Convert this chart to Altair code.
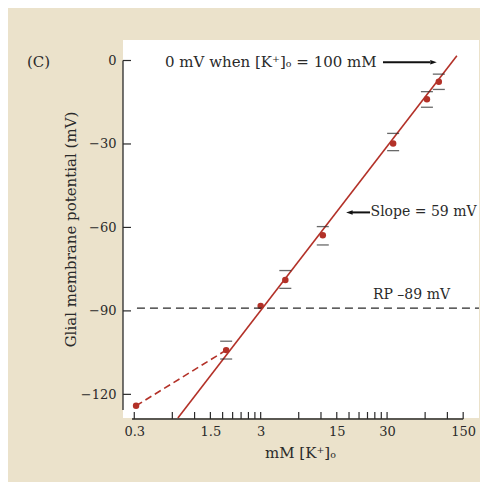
import altair as alt
import pandas as pd

# ---------------- data ----------------
conc = [0.31, 1.6, 3.0, 4.7, 9.3, 33.5, 62.0, 77.0]          # mM [K+]o
potential = [-124.1, -104.1, -88.2, -78.9, -62.8, -29.8, -13.9, -7.6]  # mV
err_upper = [None, -100.9, None, -75.5, -59.7, -26.2, -11.2, -4.9]
err_lower = [None, -107.3, None, -81.9, -66.3, -32.4, -16.8, -10.4]

fit_conc = [0.664, 107.0]        # solid Nernst line (slope 59 mV)
fit_potential = [-128.5, 1.7]

low_conc = [0.31, 1.6]           # dashed deviation at low [K+]o
low_potential = [-124.1, -104.1]

rp_conc = [0.315, 160.1]         # resting potential line
rp_potential = [-89.0, -89.0]

x_tick_values = [0.3, 0.6, 0.9, 1.2, 1.5, 1.8, 2.1, 2.4, 2.7, 3.0,
                 6, 9, 12, 15, 18, 21, 24, 27, 30, 60, 90, 120]
x_label_values = [0.3, 1.2, 3, 12, 30, 120]
x_label_text = ["0.3", "1.5", "3", "15", "30", "150"]
y_tick_values = [0, -30, -60, -90, -120]

x_axis_line = [0.288, 120]
y_axis_line = [0, -125.6]

# annotations
ann_text = ["0 mV when [K⁺]ₒ = 100 mM", "Slope = 59 mV", "RP –89 mV"]
ann_x = [0.525, 22.2, 23.2]
ann_y = [-0.6, -54.6, -84.3]
ann_size = [15, 14, 14]

arrow_id = ["a", "a", "b", "b"]
arrow_x = [27.85, 65.6, 15.8, 22.0]
arrow_y = [-0.65, -0.65, -54.6, -54.6]

head_x = [69.9, 15.1]
head_y = [-0.65, -54.6]
head_dir = ["right", "left"]

X_DOMAIN = [0.2443, 160.1]
Y_DOMAIN = [-128.5, 7.37]

W, H = 356, 378
RED = "#b33128"
INK = "#2a2a2a"
FONT = "DejaVu Serif"

xs = alt.Scale(type="log", domain=X_DOMAIN, nice=False, zero=False)
ys = alt.Scale(domain=Y_DOMAIN, nice=False, zero=False)

label_expr = "".join(
    f"datum.value == {v} ? '{t}' : " for v, t in zip(x_label_values, x_label_text)
) + "''"

X_AX = alt.Axis(
    values=x_label_values, labelExpr=label_expr, ticks=False, tickSize=0,
    domain=False, grid=False, labelFont=FONT, labelFontSize=13,
    labelColor=INK, labelPadding=7, labelFlush=False,
    title="mM [K⁺]ₒ", titleFont=FONT, titleFontSize=15, titleFontWeight="normal",
    titleColor=INK, titleX=177, titleY=34, titleBaseline="middle",
    titleAnchor="start", titleAlign="center")
Y_AX = alt.Axis(
    values=y_tick_values, ticks=False, tickSize=0, domain=False, grid=False,
    labelFont=FONT, labelFontSize=13, labelColor=INK, labelPadding=7,
    title="Glial membrane potential (mV)", titleFont=FONT, titleFontSize=15,
    titleFontWeight="normal", titleColor=INK, titleAngle=270,
    titleX=-53, titleY=189, titleBaseline="middle", titleAlign="center",
    titleAnchor="start")


def xe(field):
    return alt.X(f"{field}:Q", scale=xs, axis=X_AX)


def ye(field):
    return alt.Y(f"{field}:Q", scale=ys, axis=Y_AX)


pts = pd.DataFrame({"conc": conc, "pot": potential})
caps = pd.DataFrame({
    "conc": [c for c, u in zip(conc, err_upper) if u is not None] +
            [c for c, l in zip(conc, err_lower) if l is not None],
    "pot": [u for u in err_upper if u is not None] +
           [l for l in err_lower if l is not None],
})

points = alt.Chart(pts).mark_circle(size=42, color=RED, opacity=1).encode(
    x=xe("conc"), y=ye("pot"))

rp_line = alt.Chart(pd.DataFrame({"conc": rp_conc, "pot": rp_potential})).mark_line(
    color=INK, strokeWidth=1.2, strokeDash=[8, 5]).encode(x=xe("conc"), y=ye("pot"))

fit_line = alt.Chart(pd.DataFrame({"conc": fit_conc, "pot": fit_potential})).mark_line(
    color=RED, strokeWidth=1.6).encode(x=xe("conc"), y=ye("pot"))

low_line = alt.Chart(pd.DataFrame({"conc": low_conc, "pot": low_potential})).mark_line(
    color=RED, strokeWidth=1.6, strokeDash=[7, 4]).encode(x=xe("conc"), y=ye("pot"))

cap_marks = alt.Chart(caps).mark_tick(
    orient="horizontal", size=12, thickness=1.3, color=INK).encode(
    x=xe("conc"), y=ye("pot"))

# axis lines and inward ticks
x_axis = alt.Chart(pd.DataFrame({"conc": [x_axis_line[0]], "conc2": [x_axis_line[1]]})).mark_rule(
    color=INK, strokeWidth=1.3).encode(
    x=xe("conc"), x2="conc2:Q", y=alt.value(H + 1))
x_ticks = alt.Chart(pd.DataFrame({"conc": x_tick_values})).mark_rule(
    color=INK, strokeWidth=1.2).encode(
    x=xe("conc"), y=alt.value(H + 1), y2=alt.value(H - 6))
y_axis = alt.Chart(pd.DataFrame({"pot": [y_axis_line[0]], "pot2": [y_axis_line[1]]})).mark_rule(
    color=INK, strokeWidth=1.3).encode(
    y=ye("pot"), y2="pot2:Q", x=alt.value(0))
y_ticks = alt.Chart(pd.DataFrame({"pot": y_tick_values})).mark_rule(
    color=INK, strokeWidth=1.2).encode(
    y=ye("pot"), x=alt.value(0), x2=alt.value(8))

texts = alt.Chart(pd.DataFrame({"t": ann_text, "conc": ann_x, "pot": ann_y,
                                "s": ann_size})).mark_text(
    align="left", baseline="middle", font=FONT, color=INK).encode(
    x=xe("conc"), y=ye("pot"), text="t:N",
    size=alt.Size("s:Q", scale=None, legend=None))

arrows = alt.Chart(pd.DataFrame({"id": arrow_id, "conc": arrow_x, "pot": arrow_y})).mark_line(
    color="#111111", strokeWidth=2).encode(x=xe("conc"), y=ye("pot"), detail="id:N")

heads_df = pd.DataFrame({"conc": head_x, "pot": head_y, "dir": head_dir})
head_r = alt.Chart(heads_df[heads_df.dir == "right"]).mark_point(
    shape="M-0.5,-0.35L0.5,0L-0.5,0.35Z", filled=True, size=169, color="#111111",
    opacity=1).encode(x=xe("conc"), y=ye("pot"))
head_l = alt.Chart(heads_df[heads_df.dir == "left"]).mark_point(
    shape="M0.5,-0.35L-0.5,0L0.5,0.35Z", filled=True, size=169, color="#111111",
    opacity=1).encode(x=xe("conc"), y=ye("pot"))

panel = alt.Chart(pd.DataFrame({"t": ["(C)"]})).mark_text(
    align="left", baseline="middle", font=FONT, fontSize=15, color=INK).encode(
    x=alt.value(-96), y=alt.value(22), text="t:N")

chart = alt.layer(
    points, rp_line, fit_line, low_line, cap_marks,
    x_axis, x_ticks, y_axis, y_ticks, texts, arrows, head_r, head_l, panel,
).properties(
    width=W, height=H,
    autosize=alt.AutoSizeParams(type="none"),
    padding={"left": 115, "top": 32, "right": 1, "bottom": 64},
    background="#ebe2cb",
).configure_view(fill="white", stroke=None)

chart.save("out.html", embed_options={"renderer": "svg", "actions": False})
